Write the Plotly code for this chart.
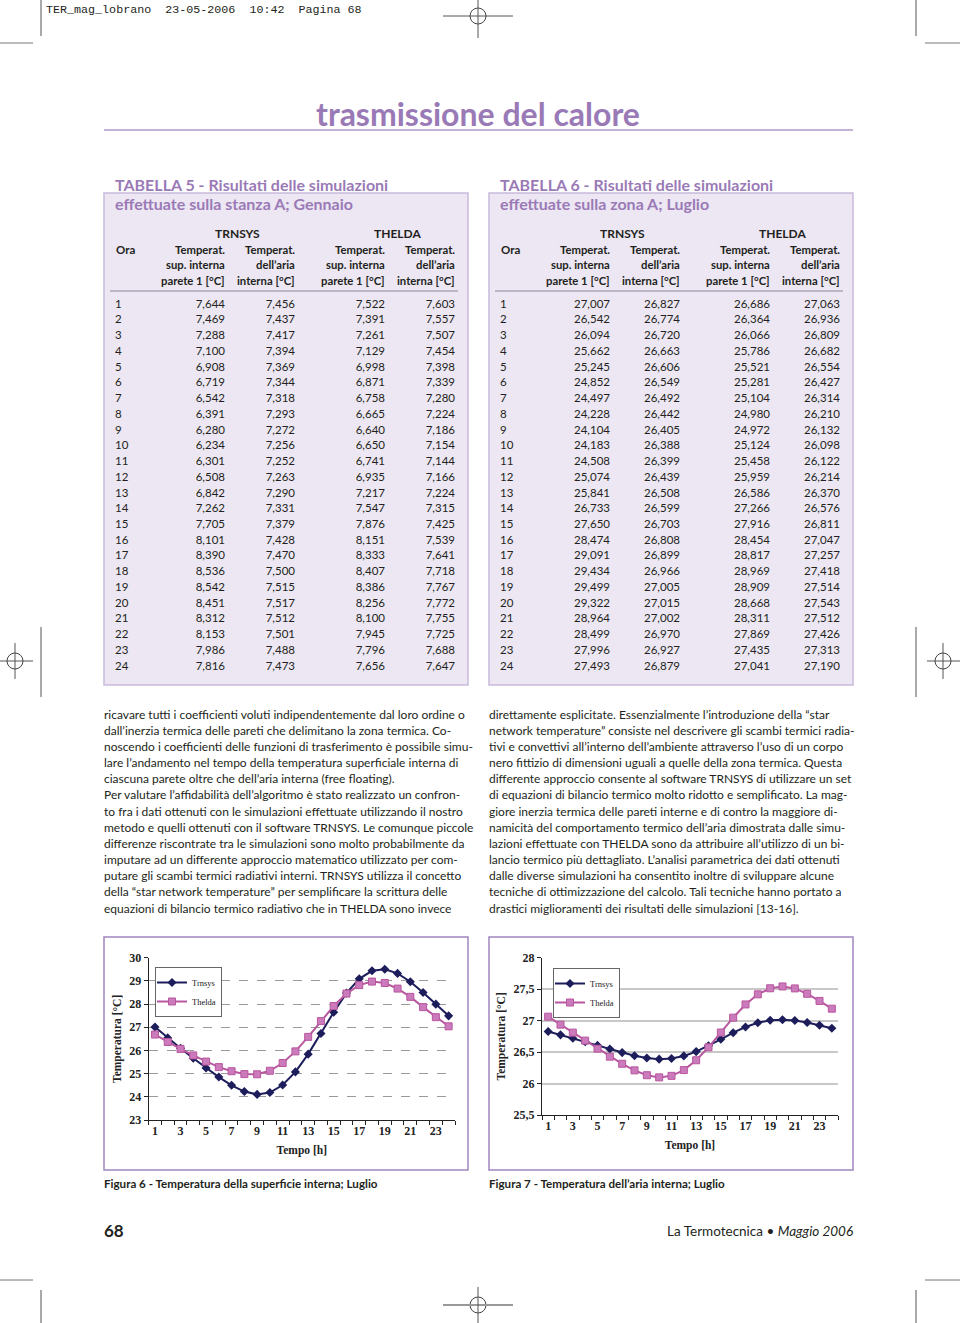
import plotly.graph_objects as go

W, H = 960, 1323


def X(px):
    return px / W


def Y(py):
    return 1 - py / H


# ---------------- data ----------------
hours = list(range(1, 25))

t5_trnsys_sup = [7.644, 7.469, 7.288, 7.100, 6.908, 6.719, 6.542, 6.391, 6.280, 6.234, 6.301, 6.508,
                 6.842, 7.262, 7.705, 8.101, 8.390, 8.536, 8.542, 8.451, 8.312, 8.153, 7.986, 7.816]
t5_trnsys_air = [7.456, 7.437, 7.417, 7.394, 7.369, 7.344, 7.318, 7.293, 7.272, 7.256, 7.252, 7.263,
                 7.290, 7.331, 7.379, 7.428, 7.470, 7.500, 7.515, 7.517, 7.512, 7.501, 7.488, 7.473]
t5_thelda_sup = [7.522, 7.391, 7.261, 7.129, 6.998, 6.871, 6.758, 6.665, 6.640, 6.650, 6.741, 6.935,
                 7.217, 7.547, 7.876, 8.151, 8.333, 8.407, 8.386, 8.256, 8.100, 7.945, 7.796, 7.656]
t5_thelda_air = [7.603, 7.557, 7.507, 7.454, 7.398, 7.339, 7.280, 7.224, 7.186, 7.154, 7.144, 7.166,
                 7.224, 7.315, 7.425, 7.539, 7.641, 7.718, 7.767, 7.772, 7.755, 7.725, 7.688, 7.647]

t6_trnsys_sup = [27.007, 26.542, 26.094, 25.662, 25.245, 24.852, 24.497, 24.228, 24.104, 24.183, 24.508, 25.074,
                 25.841, 26.733, 27.650, 28.474, 29.091, 29.434, 29.499, 29.322, 28.964, 28.499, 27.996, 27.493]
t6_trnsys_air = [26.827, 26.774, 26.720, 26.663, 26.606, 26.549, 26.492, 26.442, 26.405, 26.388, 26.399, 26.439,
                 26.508, 26.599, 26.703, 26.808, 26.899, 26.966, 27.005, 27.015, 27.002, 26.970, 26.927, 26.879]
t6_thelda_sup = [26.686, 26.364, 26.066, 25.786, 25.521, 25.281, 25.104, 24.980, 24.972, 25.124, 25.458, 25.959,
                 26.586, 27.266, 27.916, 28.454, 28.817, 28.969, 28.909, 28.668, 28.311, 27.869, 27.435, 27.041]
t6_thelda_air = [27.063, 26.936, 26.809, 26.682, 26.554, 26.427, 26.314, 26.210, 26.132, 26.098, 26.122, 26.214,
                 26.370, 26.576, 26.811, 27.047, 27.257, 27.418, 27.514, 27.543, 27.512, 27.426, 27.313, 27.190]

col_sup_header = ["Temperat.", "sup. interna", "parete 1 [°C]"]
col_air_header = ["Temperat.", "dell’aria", "interna [°C]"]
x_ticks = [1, 3, 5, 7, 9, 11, 13, 15, 17, 19, 21, 23]

text_left = [
    "ricavare tutti i coefficienti voluti indipendentemente dal loro ordine o",
    "dall’inerzia termica delle pareti che delimitano la zona termica. Co-",
    "noscendo i coefficienti delle funzioni di trasferimento è possibile simu-",
    "lare l’andamento nel tempo della temperatura superficiale interna di",
    "ciascuna parete oltre che dell’aria interna (free floating).",
    "Per valutare l’affidabilità dell’algoritmo è stato realizzato un confron-",
    "to fra i dati ottenuti con le simulazioni effettuate utilizzando il nostro",
    "metodo e quelli ottenuti con il software TRNSYS. Le comunque piccole",
    "differenze riscontrate tra le simulazioni sono molto probabilmente da",
    "imputare ad un differente approccio matematico utilizzato per com-",
    "putare gli scambi termici radiativi interni. TRNSYS utilizza il concetto",
    "della “star network temperature” per semplificare la scrittura delle",
    "equazioni di bilancio termico radiativo che in THELDA sono invece",
]
text_right = [
    "direttamente esplicitate. Essenzialmente l’introduzione della “star",
    "network temperature” consiste nel descrivere gli scambi termici radia-",
    "tivi e convettivi all’interno dell’ambiente attraverso l’uso di un corpo",
    "nero fittizio di dimensioni uguali a quelle della zona termica. Questa",
    "differente approccio consente al software TRNSYS di utilizzare un set",
    "di equazioni di bilancio termico molto ridotto e semplificato. La mag-",
    "giore inerzia termica delle pareti interne e di contro la maggiore di-",
    "namicità del comportamento termico dell’aria dimostrata dalle simu-",
    "lazioni effettuate con THELDA sono da attribuire all’utilizzo di un bi-",
    "lancio termico più dettagliato. L’analisi parametrica dei dati ottenuti",
    "dalle diverse simulazioni ha consentito inoltre di sviluppare alcune",
    "tecniche di ottimizzazione del calcolo. Tali tecniche hanno portato a",
    "drastici miglioramenti dei risultati delle simulazioni [13-16].",
]

# ---------------- styles ----------------
PURPLE = "#9a7ab6"
BOX_FILL = "#ece7f3"
BOX_LINE = "#c9badb"
TXT = "#231f20"
NAVY = "#1d1d5c"
PINK_LINE = "#b8579f"
PINK_MARK = "#cb7abb"
CLEAR = "rgba(0,0,0,0)"


def fmt(v):
    return f"{v:.3f}".replace(".", ",")


fig = go.Figure()
annotations = []
shapes = []


def txt(x, y, s, size=11.5, color=TXT, anchor="left", weight="normal", family="Lato",
        style="normal", angle=0):
    annotations.append(dict(
        x=X(x), y=Y(y), xref="paper", yref="paper", text=s, showarrow=False,
        xanchor=anchor, yanchor="middle", textangle=angle, borderpad=0,
        font=dict(size=size, color=color, family=family, weight=weight, style=style)))


def line(x0, y0, x1, y1, color="#444", width=1):
    shapes.append(dict(type="line", xref="paper", yref="paper", x0=X(x0), y0=Y(y0),
                       x1=X(x1), y1=Y(y1), line=dict(color=color, width=width)))


def rect(x0, y0, x1, y1, fill, lc, lw=1.5):
    shapes.append(dict(type="rect", xref="paper", yref="paper", x0=X(x0), y0=Y(y0),
                       x1=X(x1), y1=Y(y1), fillcolor=fill, line=dict(color=lc, width=lw),
                       layer="below"))


def circle(cx, cy, r, color="#444"):
    shapes.append(dict(type="circle", xref="paper", yref="paper", x0=X(cx - r), y0=Y(cy + r),
                       x1=X(cx + r), y1=Y(cy - r), line=dict(color=color, width=1)))


# ---------------- print marks ----------------
txt(45, 10, "TER_mag_lobrano\u00a0\u00a023-05-2006\u00a0\u00a010:42\u00a0\u00a0Pagina\u00a068",
    size=11.7, family="Liberation Mono")
line(41, 0, 41, 36, "#555")
line(0, 43, 33, 43, "#777")
line(916, 0, 916, 36, "#555")
line(925, 43, 960, 43, "#777")
circle(478, 16, 8)
line(443, 16, 513, 16, "#555")
line(478, 0, 478, 38, "#555")

line(0, 1280, 33, 1280, "#777")
line(925, 1280, 960, 1280, "#777")
line(41, 1290, 41, 1323, "#555")
line(916, 1290, 916, 1323, "#555")
circle(478, 1305, 8)
line(443, 1305, 513, 1305, "#999", 2)
line(478, 1287, 478, 1323, "#555")

circle(15, 661, 8)
line(0, 661, 33, 661, "#555")
line(15, 643, 15, 679, "#555")
line(41, 627, 41, 697, "#555")
circle(943, 661, 8)
line(927, 661, 960, 661, "#555")
line(943, 643, 943, 679, "#555")
line(916, 627, 916, 697, "#555")

# ---------------- page title ----------------
txt(478, 114, "trasmissione del calore", size=32, color=PURPLE, anchor="center", weight="bold")
line(104, 130, 853, 130, "#c4b2d6", 2.2)

# ---------------- tables ----------------
ROW_H = 15.74
TABLE_TOP = 275


def add_table(ox, title1, title2, c1, c2, c3, c4):
    rect(ox, 193, ox + 364, 685, BOX_FILL, BOX_LINE)
    txt(ox + 10, 184, title1, size=16, color=PURPLE, weight="bold")
    txt(ox + 10, 203, title2, size=16, color=PURPLE, weight="bold")
    txt(ox + 133, 233, "TRNSYS", size=12, weight="bold", anchor="center")
    txt(ox + 293, 233, "THELDA", size=12, weight="bold", anchor="center")
    txt(ox + 11, 249, "Ora", size=11.5, weight="bold")
    rights = [121, 191, 281, 351]
    heads = [col_sup_header, col_air_header, col_sup_header, col_air_header]
    for r, hd in zip(rights, heads):
        for i, s in enumerate(hd):
            txt(ox + r + 1, 249 + i * 15.5, s, size=11.3, weight="bold", anchor="right")
    line(ox + 6, 291, ox + 354, 291, "#aea4ba", 1.6)
    fig.add_trace(go.Table(
        domain=dict(x=[X(ox + 3), X(ox + 359)], y=[Y(TABLE_TOP + 430), Y(TABLE_TOP)]),
        columnwidth=[53, 73, 70, 90, 70],
        header=dict(values=[], height=1, fill=dict(color=CLEAR), line=dict(color=CLEAR, width=0)),
        cells=dict(
            values=[[str(h) for h in hours], [fmt(v) for v in c1], [fmt(v) for v in c2],
                    [fmt(v) for v in c3], [fmt(v) for v in c4]],
            align=["left", "right", "right", "right", "right"],
            height=ROW_H,
            font=dict(family="Lato", size=11.5, color=TXT),
            fill=dict(color=CLEAR),
            line=dict(color=CLEAR, width=0),
        ),
    ))


add_table(104, "TABELLA 5 - Risultati delle simulazioni", "effettuate sulla stanza A; Gennaio",
          t5_trnsys_sup, t5_trnsys_air, t5_thelda_sup, t5_thelda_air)
add_table(489, "TABELLA 6 - Risultati delle simulazioni", "effettuate sulla zona A; Luglio",
          t6_trnsys_sup, t6_trnsys_air, t6_thelda_sup, t6_thelda_air)

# ---------------- body text ----------------
for i, s in enumerate(text_left):
    txt(103, 714 + i * 16.17, s, size=12)
for i, s in enumerate(text_right):
    txt(488, 714 + i * 16.17, s, size=12)

# ---------------- charts ----------------
rect(104, 937, 468, 1170, "white", "#9f86bf", 1.5)
rect(489, 937, 853, 1170, "white", "#9f86bf", 1.5)

SERIF = "Liberation Serif"


def add_series(xa, ya, leg, tr, th):
    fig.add_trace(go.Scatter(
        x=hours, y=tr, name="Trnsys", mode="lines+markers", xaxis=xa, yaxis=ya, legend=leg,
        line=dict(color=NAVY, width=2),
        marker=dict(symbol="diamond", size=7, color=NAVY)))
    fig.add_trace(go.Scatter(
        x=hours, y=th, name="Thelda", mode="lines+markers", xaxis=xa, yaxis=ya, legend=leg,
        line=dict(color=PINK_LINE, width=2),
        marker=dict(symbol="square", size=7, color=PINK_MARK, line=dict(color=PINK_LINE, width=1))))


add_series("x", "y", "legend", t6_trnsys_sup, t6_thelda_sup)
add_series("x2", "y2", "legend2", t6_trnsys_air, t6_thelda_air)

tickfont = dict(family=SERIF, size=12, color="#222", weight="bold")
titlefont = dict(family=SERIF, size=11.5, color="#222", weight="bold")


def xaxis_cfg(x0, x1, anchor):
    return dict(
        domain=[X(x0), X(x1)], anchor=anchor, range=[0.5, 24.5], tickmode="array", tickvals=x_ticks,
        ticktext=[str(v) for v in x_ticks], showline=True, linecolor="#222", linewidth=1,
        ticks="", tickfont=tickfont, showgrid=False, zeroline=False,
        title=dict(text="Tempo [h]", font=titlefont, standoff=8),
        minor=dict(tickmode="linear", tick0=0.5, dtick=1, ticks="outside", ticklen=4,
                   tickcolor="#222", showgrid=False),
    )


def yaxis_cfg(y0, y1, anchor, rng, dt, grid):
    return dict(
        domain=[Y(y0), Y(y1)], anchor=anchor, range=rng, dtick=dt, tick0=rng[0],
        showline=True, linecolor="#222", linewidth=1, ticks="outside", ticklen=4,
        tickcolor="#222", tickfont=tickfont, showgrid=True, zeroline=False,
        title=dict(text="Temperatura [°C]", font=titlefont, standoff=5), **grid)


legend_style = dict(xanchor="left", yanchor="top", bgcolor="white", bordercolor="#666",
                    borderwidth=1, font=dict(family=SERIF, size=8.5, color="#222"),
                    itemwidth=30, tracegroupgap=0, indentation=-4)

fig.update_layout(
    width=W, height=H, margin=dict(l=0, r=0, t=0, b=0, autoexpand=False),
    paper_bgcolor="white", plot_bgcolor="white", separators=",.",
    font=dict(family="Lato", color=TXT),
    xaxis=xaxis_cfg(148.6, 455, "y"),
    yaxis=yaxis_cfg(1120, 957.7, "x", [23, 30], 1,
                    dict(gridcolor="#9a9a9a", griddash="dash", gridwidth=1)),
    xaxis2=xaxis_cfg(542, 838, "y2"),
    yaxis2=yaxis_cfg(1115, 957.7, "x2", [25.5, 28], 0.5,
                     dict(gridcolor="#c8c8c8", gridwidth=2)),
    legend=dict(x=X(155), y=Y(967), **legend_style),
    legend2=dict(x=X(553), y=Y(968), **legend_style),
)

# captions and footer
txt(103, 1183, "Figura 6 - Temperatura della superficie interna; Luglio", size=11.6, weight="bold")
txt(488, 1183, "Figura 7 - Temperatura dell’aria interna; Luglio", size=11.6, weight="bold")
txt(103, 1230, "68", size=17, weight="bold")
txt(854, 1231, "La Termotecnica • <i>Maggio 2006</i>", size=13.5, anchor="right")

fig.update_layout(annotations=annotations, shapes=shapes)
fig.write_html(
    "out.html",
    config={"displayModeBar": False},
    post_script="document.body.style.margin='0';document.body.style.overflow='hidden';"
                "document.documentElement.style.overflow='hidden';",
)
